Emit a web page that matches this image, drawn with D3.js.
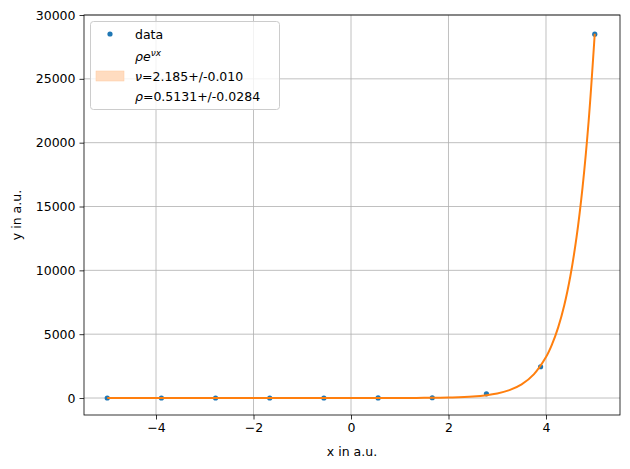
<!DOCTYPE html><html><head><meta charset="utf-8"><script src="https://cdn.jsdelivr.net/npm/d3@7"></script>
<style>body{margin:0;background:#fff}text{font-family:"DejaVu Sans",sans-serif;}</style></head><body><svg id="c" width="630" height="469"></svg>
<script>
const dataX=[-5,-3.889,-2.778,-1.667,-0.556,0.556,1.667,2.778,3.889,5];
const dataY=[0,0,0,1,2,6,20,330,2450,28500];
const fitX=[-5,-4,-3,-2,-1,0,1,1.5,2,2.5,3,3.25,3.5,3.75,4,4.125,4.25,4.375,4.5,4.625,4.75,4.875,5];
const fitY=[0,0,0,0,0.06,0.5,4.5,13.6,40.5,121,361,623,1075,1857,3207,4213,5537,7272,9560,12560,16506,21700,28530];
const xTicks=[-4,-2,0,2,4];
const yTicks=[0,5000,10000,15000,20000,25000,30000];
const L=84,R=620,T=15,B=415,FS=12.5;
const x=d3.scaleLinear().domain([-5.477,5.518]).range([L,R]);
const y=d3.scaleLinear().domain([-1330,30000]).range([B,T]);
const svg=d3.select("#c");
const g=svg.append("g");
g.selectAll(".gx").data(xTicks).enter().append("line").attr("x1",d=>x(d)).attr("x2",d=>x(d)).attr("y1",T).attr("y2",B).attr("stroke","#b0b0b0").attr("stroke-width",0.8);
g.selectAll(".gy").data(yTicks).enter().append("line").attr("y1",d=>y(d)).attr("y2",d=>y(d)).attr("x1",L).attr("x2",R).attr("stroke","#b0b0b0").attr("stroke-width",0.8);
const ax=svg.append("g").attr("transform",`translate(0,${B})`).call(d3.axisBottom(x).tickValues(xTicks).tickSize(4.5).tickPadding(4).tickFormat(d=>d<0?"−"+(-d):d));
const ay=svg.append("g").attr("transform",`translate(${L},0)`).call(d3.axisLeft(y).tickValues(yTicks).tickSize(4.5).tickPadding(4).tickFormat(d=>String(d)));
[ax,ay].forEach(a=>{a.select(".domain").remove();a.selectAll("text").attr("font-size",FS).attr("fill","#000").style("font-family","DejaVu Sans");a.selectAll("line").attr("stroke","#000").attr("stroke-width",0.8);});
svg.selectAll(".pt").data(dataX).enter().append("circle").attr("cx",d=>x(d)).attr("cy",(d,i)=>y(dataY[i])).attr("r",2.6).attr("fill","#1f77b4");
svg.append("path").datum(fitX.map((d,i)=>[d,fitY[i]])).attr("d",d3.line().x(d=>x(d[0])).y(d=>y(d[1])).curve(d3.curveCatmullRom)).attr("fill","none").attr("stroke","#ff7f0e").attr("stroke-width",2);
svg.append("rect").attr("x",L).attr("y",T).attr("width",R-L).attr("height",B-T).attr("fill","none").attr("stroke","#000").attr("stroke-width",0.8);
svg.append("text").attr("x",(L+R)/2).attr("y",456).attr("text-anchor","middle").attr("font-size",FS).text("x in a.u.");
svg.append("text").attr("transform","translate(21,215) rotate(-90)").attr("text-anchor","middle").attr("font-size",FS).text("y in a.u.");
const lg=svg.append("g");
lg.append("rect").attr("x",90.5).attr("y",21.5).attr("width",189).attr("height",88).attr("rx",3).attr("fill","#fff").attr("fill-opacity",0.8).attr("stroke","#ccc");
lg.append("circle").attr("cx",110).attr("cy",34).attr("r",2.6).attr("fill","#1f77b4");
lg.append("text").attr("x",135).attr("y",39).attr("font-size",FS).text("data");
const t2=lg.append("text").attr("x",135).attr("y",61).attr("font-size",FS).attr("font-style","italic");
t2.append("tspan").text("ρe");t2.append("tspan").attr("dy",-5).attr("font-size",9).text("νx");
lg.append("rect").attr("x",96).attr("y",71).attr("width",28).attr("height",10).attr("fill","#ffdcc0").attr("stroke","#ffc9a0").attr("stroke-width",0.5);
const t3=lg.append("text").attr("x",135).attr("y",81).attr("font-size",FS);t3.append("tspan").attr("font-style","italic").text("ν");t3.append("tspan").text("=2.185+/-0.010");
const t4=lg.append("text").attr("x",135).attr("y",101).attr("font-size",FS);t4.append("tspan").attr("font-style","italic").text("ρ");t4.append("tspan").text("=0.5131+/-0.0284");
</script></body></html>
